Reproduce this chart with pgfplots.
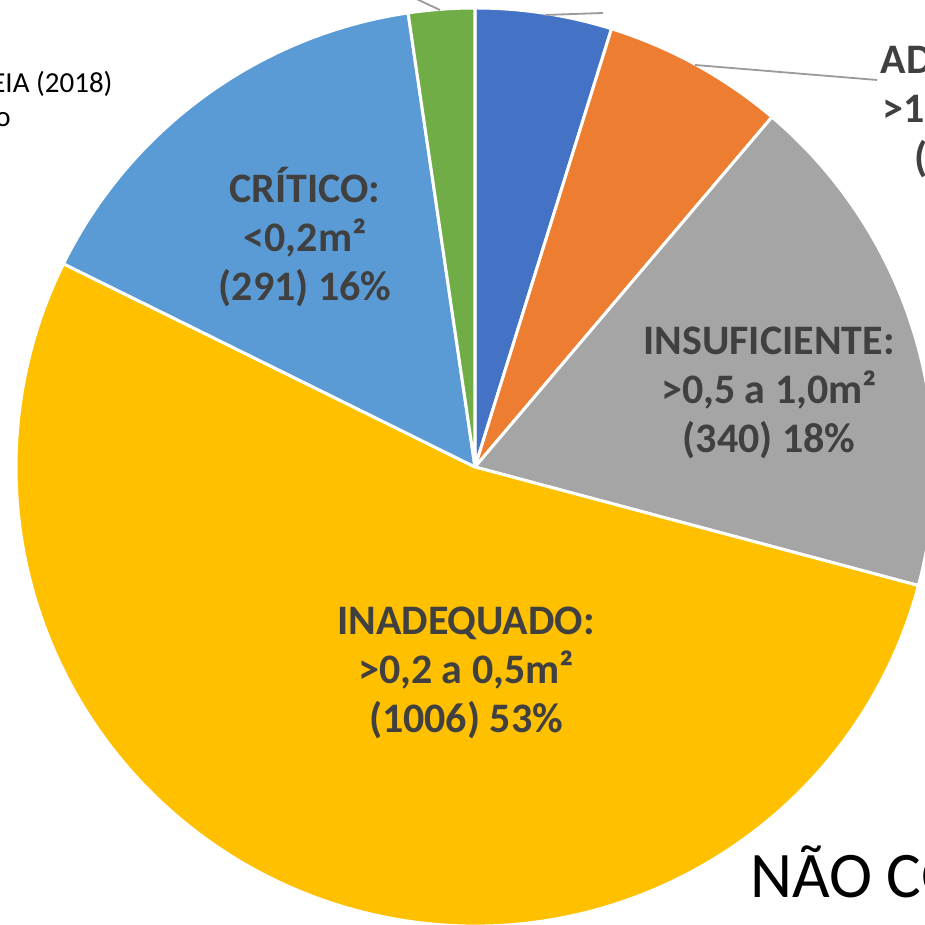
\documentclass[border=0pt]{standalone}
\usepackage{pgfplots}
\pgfplotsset{compat=1.18}
\usepackage{pgfplotstable}
\usepackage{fontspec}
\setmainfont{Carlito}
\definecolor{sl0}{HTML}{4472C4}
\definecolor{sl1}{HTML}{ED7D31}
\definecolor{sl2}{HTML}{A5A5A5}
\definecolor{sl3}{HTML}{FFC000}
\definecolor{sl4}{HTML}{5B9BD5}
\definecolor{sl5}{HTML}{70AD47}
\definecolor{lbl}{HTML}{404040}
\definecolor{leader}{HTML}{9A9A9A}
% slices, clockwise from the top
\pgfplotstableread{
value
91
121
340
1006
291
44
}\piedata
\begin{document}
\begin{tikzpicture}
\useasboundingbox (0,0) rectangle (462.5pt,462.5pt);
\clip (0,0) rectangle (462.5pt,462.5pt);
% total
\gdef\total{0}
\foreach \i in {0,...,5}{
  \pgfplotstablegetelem{\i}{value}\of\piedata
  \pgfmathsetmacro\t{\total+\pgfplotsretval}
  \global\let\total\t
}
% angles
\gdef\angO{90}
\foreach \i in {0,...,5}{
  \pgfplotstablegetelem{\i}{value}\of\piedata
  \pgfmathsetmacro\fr{\pgfplotsretval/\total}
  \pgfmathsetmacro\nxt{\angO-360*\fr}
  \expandafter\xdef\csname sa\i\endcsname{\angO}
  \expandafter\xdef\csname ea\i\endcsname{\nxt}
  \global\let\angO\nxt
}
\begin{scope}[overlay]
\begin{axis}[at={(0pt,0pt)}, anchor=south west, scale only axis,
  width=462.5pt, height=462.5pt, xmin=0, xmax=925, ymin=0, ymax=925,
  hide axis, clip=false]
\pgfplotsextra{
  \foreach \i in {0,...,5}{
    \edef\sa{\csname sa\i\endcsname}\edef\ea{\csname ea\i\endcsname}
    \filldraw[fill=sl\i, draw=white, line width=1.5pt, line join=round]
      (axis cs:475,458) -- ++(\sa:229.5pt) arc[start angle=\sa, end angle=\ea, radius=229.5pt] -- cycle;
  }
}
% leader lines
\draw[leader, line width=0.9pt] (axis cs:408,930) -- (axis cs:440,915);
\draw[leader, line width=0.9pt] (axis cs:545,910) -- (axis cs:603,912);
\draw[leader, line width=0.9pt] (axis cs:695,860) -- (axis cs:877,845);
% labels
\tikzset{pielbl/.style={align=center, font=\fontsize{21}{24.5}\selectfont\bfseries, text=lbl}}
\node[pielbl] at (axis cs:305,688) {CRÍTICO:\\<0,2m²\\(291) 16\%};
\node[pielbl] at (axis cs:769,532) {INSUFICIENTE:\\>0,5 a 1,0m²\\(340) 18\%};
\node[pielbl] at (axis cs:466,252) {INADEQUADO:\\>0,2 a 0,5m²\\(1006) 53\%};
\node[pielbl] at (axis cs:990,813) {ADEQUADO:\\>1,0 a 1,5m²\\(121) 6\%};
% other texts
\node[anchor=base east, font=\fontsize{14.5}{17}\selectfont, inner sep=0pt]
  at (axis cs:113,832) {Fonte: elaborado a partir do EIA (2018)};
\node[anchor=base east, font=\fontsize{14.5}{17}\selectfont, inner sep=0pt]
  at (axis cs:11,798) {Adaptado};
\node[anchor=base west, font=\fontsize{32.5}{39}\selectfont, inner sep=0pt]
  at (axis cs:750,28) {NÃO CONFORME};
\end{axis}
\end{scope}
\end{tikzpicture}
\end{document}
